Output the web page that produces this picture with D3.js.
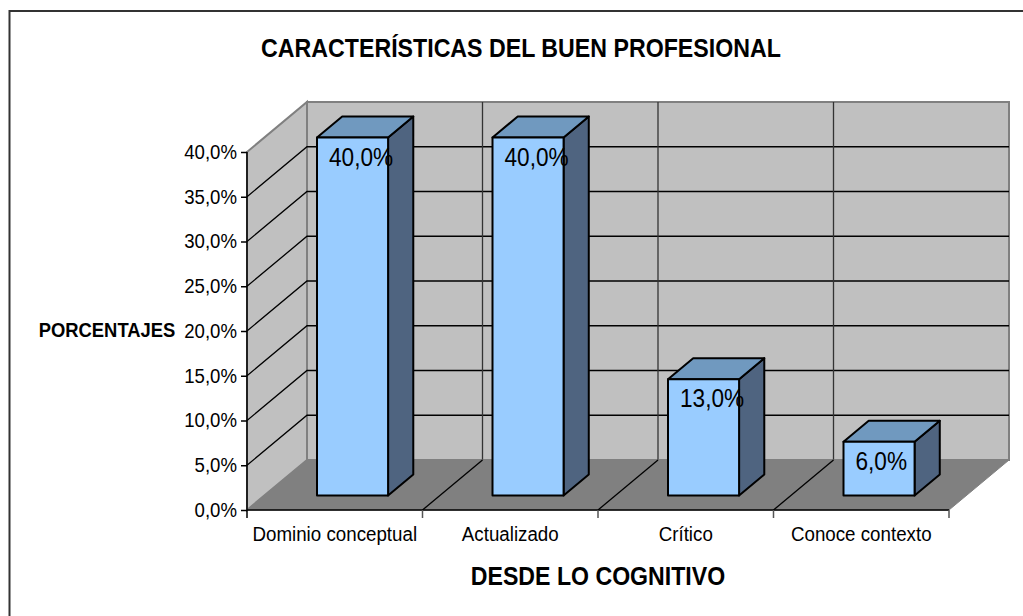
<!DOCTYPE html>
<meta charset="utf-8">
<style>
html, body { margin: 0; background: #fff; }
svg { display: block; }
text { font-family: "Liberation Sans", Arial, sans-serif; fill: #000; }
.tick text { font-size: 20px; }
.tick line, .domain { stroke: #000; stroke-width: 1.5px; }
.lbl { font-size: 26px; }
.ttl { font-weight: bold; }
</style>
<svg width="1023" height="616"></svg>
<script src="https://d3js.org/d3.v7.min.js"></script>
<script>
var categories = ["Dominio conceptual", "Actualizado", "Crítico", "Conoce contexto"];
var values = [40, 40, 13, 6];
var valueLabels = ["40,0%", "40,0%", "13,0%", "6,0%"];
var yTicks = [0, 5, 10, 15, 20, 25, 30, 35, 40];

var svg = d3.select("svg");

// el original tiene letras mas altas y estrechas
function squeeze(sel, ratio) {
    sel.each(function() {
        this.setAttribute("textLength", this.getComputedTextLength() * ratio);
        this.setAttribute("lengthAdjust", "spacingAndGlyphs");
    });
    return sel;
}

// marco exterior: solo arriba e izquierda
svg.append("path")
    .attr("d", "M9.5,616V11H1023")
    .attr("fill", "none").attr("stroke", "#333").attr("stroke-width", 2);

var x = d3.scaleBand().domain(categories).range([247, 949]);
var y = d3.scaleLinear().domain([0, 40]).range([510, 152]);

// profundidad de la caja 3D
var depthX = 60, depthY = -50;
var x0 = x.range()[0], x1 = x.range()[1];
var y0 = y(0), yTop = y(40);
var edges = categories.map(function(c) { return x(c); }).concat([x1]);

var pts = function(a) { return a.map(function(p) { return p.join(","); }).join(" "); };

// pared del fondo, pared lateral, suelo
svg.append("polygon")
    .attr("points", pts([[x0 + depthX, yTop + depthY], [x1 + depthX, yTop + depthY], [x1 + depthX, y0 + depthY], [x0 + depthX, y0 + depthY]]))
    .attr("fill", "#c0c0c0").attr("stroke", "#808080").attr("stroke-width", 2);
svg.append("polygon")
    .attr("points", pts([[x0, yTop], [x0 + depthX, yTop + depthY], [x0 + depthX, y0 + depthY], [x0, y0]]))
    .attr("fill", "#c0c0c0").attr("stroke", "#808080").attr("stroke-width", 2);

// rejilla
var grid = svg.append("g");
grid.selectAll(".h").data(yTicks.slice(1, -1)).enter().append("polyline")
    .attr("points", function(d) {
        return pts([[x0, y(d)], [x0 + depthX, y(d) + depthY], [x1 + depthX, y(d) + depthY]]);
    })
    .attr("fill", "none").attr("stroke", "#000").attr("stroke-width", 1.3);
grid.selectAll(".v").data(edges.slice(1, -1)).enter().append("line")
    .attr("x1", function(d) { return d + depthX; }).attr("x2", function(d) { return d + depthX; })
    .attr("y1", yTop + depthY).attr("y2", y0 + depthY)
    .attr("stroke", "#333").attr("stroke-width", 1.3);

svg.append("polygon")
    .attr("points", pts([[x0, y0], [x0 + depthX, y0 + depthY], [x1 + depthX, y0 + depthY], [x1, y0]]))
    .attr("fill", "#808080").attr("stroke", "#808080").attr("stroke-width", 1);
svg.selectAll(".fl").data(edges.slice(1, -1)).enter().append("line")
    .attr("x1", function(d) { return d; }).attr("x2", function(d) { return d + depthX; })
    .attr("y1", y0).attr("y2", y0 + depthY)
    .attr("stroke", "#000").attr("stroke-width", 1.3);

// barras
var barW = x.bandwidth() * 0.405;
var barOffset = 70;
var front = 0.29, back = 0.71;
var bars = svg.selectAll(".bar").data(values).enter().append("g").attr("class", "bar");

var faceAttrs = function(sel, fill) {
    return sel.attr("fill", fill).attr("stroke", "#000").attr("stroke-width", 2).attr("stroke-linejoin", "round");
};
var barX = function(i) { return x(categories[i]) + barOffset; };
var by0 = y0 + depthY * front;
var barTop = function(d) { return by0 - (y(0) - y(d)); };
var dx = depthX * (back - front), dy = depthY * (back - front);

faceAttrs(bars.append("polygon"), "#4f6480").attr("points", function(d, i) {
    var r = barX(i) + barW, t = barTop(d);
    return pts([[r, t], [r + dx, t + dy], [r + dx, by0 + dy], [r, by0]]);
});
faceAttrs(bars.append("polygon"), "#7099bf").attr("points", function(d, i) {
    var l = barX(i), t = barTop(d);
    return pts([[l, t], [l + dx, t + dy], [l + barW + dx, t + dy], [l + barW, t]]);
});
faceAttrs(bars.append("rect"), "#99ccff")
    .attr("x", function(d, i) { return barX(i); })
    .attr("y", function(d) { return barTop(d); })
    .attr("width", barW)
    .attr("height", function(d) { return by0 - barTop(d); });

bars.append("text").attr("class", "lbl")
    .attr("x", function(d, i) { return barX(i) + 12; })
    .attr("y", function(d) { return barTop(d) + 28; })
    .text(function(d, i) { return valueLabels[i]; })
    .call(squeeze, 0.87);

// ejes
var yAxis = svg.append("g").attr("transform", "translate(" + x0 + ",0)")
    .call(d3.axisLeft(y).tickValues(yTicks).tickSize(6).tickPadding(4)
        .tickFormat(function(d) { return d3.format(".1f")(d).replace(".", ",") + "%"; }));
yAxis.select(".domain").attr("d", "M0," + yTop + "V" + y0);
yAxis.selectAll(".tick text").call(squeeze, 0.93);

var cat = svg.append("g").attr("transform", "translate(0," + y0 + ")")
    .call(d3.axisBottom(x).tickSize(0).tickPadding(17));
cat.select(".domain").attr("d", "M" + x0 + ",0H" + x1).attr("stroke-width", 2);
cat.selectAll(".tick text").call(squeeze, 0.937);
cat.selectAll(".tk").data(edges).enter().append("line")
    .attr("x1", function(d) { return d; }).attr("x2", function(d) { return d; })
    .attr("y1", 0).attr("y2", 8)
    .attr("stroke", function(d, i) { return i === 0 ? "#000" : "#555"; }).attr("stroke-width", 1.5);

// titulos
svg.append("text").attr("class", "ttl").attr("x", 521).attr("y", 57)
    .attr("text-anchor", "middle").style("font-size", "25px").text("CARACTERÍSTICAS DEL BUEN PROFESIONAL")
    .call(squeeze, 0.927);
svg.append("text").attr("class", "ttl").attr("x", 107).attr("y", 337)
    .attr("text-anchor", "middle").style("font-size", "19.5px").text("PORCENTAJES")
    .call(squeeze, 0.943);
svg.append("text").attr("class", "ttl").attr("x", 598).attr("y", 585)
    .attr("text-anchor", "middle").style("font-size", "25px").text("DESDE LO COGNITIVO")
    .call(squeeze, 0.925);
</script>
